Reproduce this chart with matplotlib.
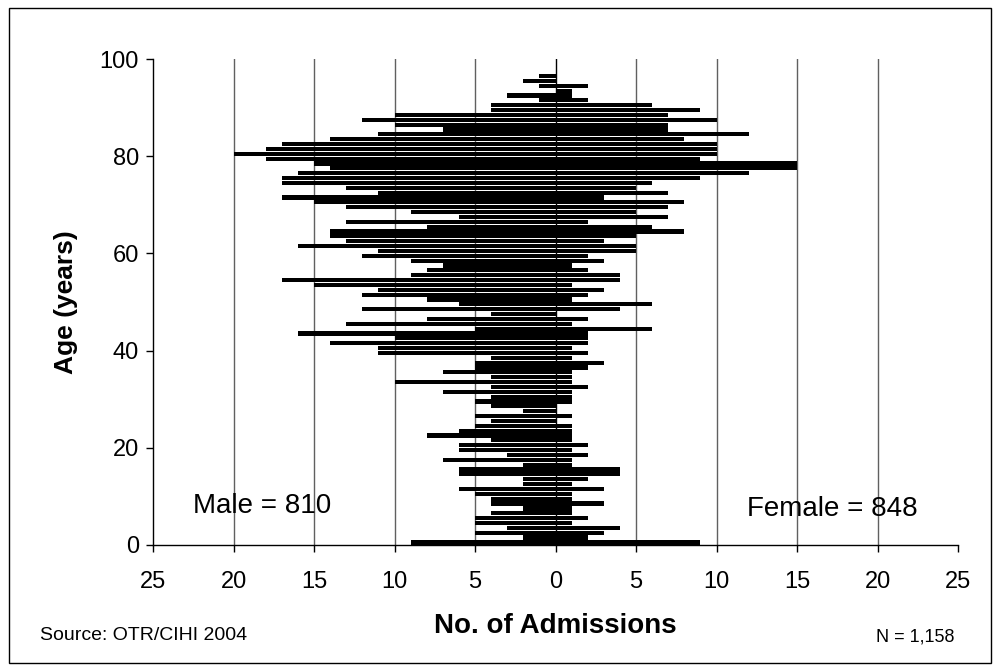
import numpy as np
import matplotlib.pyplot as plt
from matplotlib.patches import Rectangle

# admissions by single year of age
ages = np.arange(0, 98)
male = [9, 2, 5, 3, 5, 5, 4, 2, 4, 4,
        5, 6, 2, 2, 6, 6, 2, 7, 3, 6,
        6, 4, 8, 6, 5, 4, 5, 2, 4, 5,
        4, 7, 4, 10, 4, 7, 5, 5, 4, 11,
        11, 14, 10, 16, 5, 13, 8, 4, 12, 6,
        8, 12, 11, 15, 17, 9, 8, 7, 9, 12,
        11, 16, 13, 14, 14, 8, 13, 6, 9, 13,
        15, 17, 11, 13, 17, 17, 16, 14, 15, 18,
        20, 18, 17, 14, 11, 7, 10, 12, 10, 4,
        4, 1, 3, 0, 1, 2, 1, 0]
female = [9, 2, 3, 4, 1, 2, 1, 1, 3, 1,
          1, 3, 1, 2, 4, 4, 1, 1, 2, 1,
          2, 1, 1, 1, 1, 0, 1, 0, 0, 1,
          1, 1, 2, 1, 1, 1, 2, 3, 1, 2,
          1, 2, 2, 2, 6, 1, 2, 0, 4, 6,
          1, 2, 3, 1, 4, 4, 2, 1, 3, 2,
          5, 5, 3, 5, 8, 6, 2, 7, 5, 7,
          8, 3, 7, 5, 6, 9, 12, 15, 15, 9,
          10, 10, 10, 8, 12, 7, 7, 10, 7, 9,
          6, 2, 1, 1, 2, 0, 0, 0]

x_ticks = np.arange(-25, 26, 5)
x_tick_labels = ['25', '20', '15', '10', '5', '0', '5', '10', '15', '20', '25']
y_ticks = [0, 20, 40, 60, 80, 100]

plt.rcParams['font.family'] = ['Liberation Sans', 'DejaVu Sans']

fig = plt.figure(figsize=(10, 6.71), dpi=100)
ax = fig.add_axes([0.153, 0.188, 0.805, 0.724])

# vertical gridlines behind the bars
for x in x_ticks[1:-1]:
    if x != 0:
        ax.axvline(x, color='#606060', lw=1, zorder=0)
ax.axvline(0, color='black', lw=1, zorder=3)

ax.barh(ages + 0.5, -np.array(male), height=0.86, color='black', zorder=2)
ax.barh(ages + 0.5, female, height=0.86, color='black', zorder=2)

ax.set_xlim(-25, 25)
ax.set_ylim(0, 100)
ax.set_xticks(x_ticks)
ax.set_xticklabels(x_tick_labels)
ax.set_yticks(y_ticks)
ax.tick_params(axis='both', labelsize=17, length=5, width=1, direction='out', colors='black')
ax.tick_params(axis='x', pad=14)
ax.tick_params(axis='y', pad=5)

for side in ['top', 'right']:
    ax.spines[side].set_visible(False)
for side in ['left', 'bottom']:
    ax.spines[side].set_linewidth(1)

ax.set_ylabel('Age (years)', fontsize=19, fontweight='bold', labelpad=16)
ax.set_xlabel('No. of Admissions', fontsize=20, fontweight='bold', labelpad=14)

ax.text(-22.5, 8, 'Male = 810', fontsize=20, va='center')
ax.text(11.9, 7.3, 'Female = 848', fontsize=20, va='center')

fig.text(0.04, 0.053, 'Source: OTR/CIHI 2004', fontsize=14, va='center')
fig.text(0.955, 0.05, 'N = 1,158', fontsize=13, va='center', ha='right')

# chart area border
fig.patches.append(Rectangle((0.009, 0.012), 0.982, 0.976, transform=fig.transFigure,
                             fill=False, edgecolor='black', lw=1))

fig.savefig('out.png', dpi=100)
